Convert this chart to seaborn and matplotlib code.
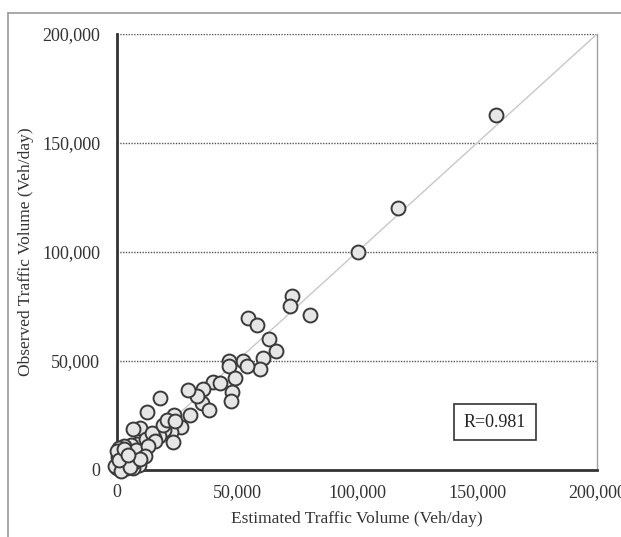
import matplotlib
matplotlib.use("Agg")
import matplotlib.pyplot as plt
import matplotlib.ticker as mticker
from matplotlib.lines import Line2D
import seaborn as sns
import pandas as pd

# Estimated vs observed traffic volume (thousands of veh/day)
estimated_k = [158, 117, 100.5, 73, 72, 80.5, 54.7, 58.2, 63.5, 66.3, 61, 59.6,
               52.6, 54, 46.8, 46.8, 49.2, 47.8, 47.3, 39.9, 42.9, 36, 35.3,
               33.5, 29.5, 38.5, 30.3,
               18, 12.4, 23.8, 26.5, 22.5, 23.5, 19.5, 17.5, 15.5, 13.5, 9.6,
               6.8, 8.5, 6, 3, 1, 11, 7.5, 5.4, 2.6, 0.5, 0.2, 2, 4, 0.5, 9,
               6.8, 10.5, 12, 14.5, 19, 21, 24, 1.5, 3, 5, 8, 4, 1, 3.5, 2.2,
               7, 16, 13, 11.5, -1, 0, 1.8, 5.5, 9.5, 0.8, 2.8, 4.5]
observed_k = [163, 120, 100, 80, 75, 71, 69.5, 66.5, 60, 54.5, 51.5, 46.5,
              50.2, 47.6, 49.8, 47.5, 42.3, 35.6, 31.5, 40.2, 40, 37, 30.5,
              34, 36.5, 27.3, 25.2,
              33, 26.5, 25.3, 19.5, 17.5, 13, 18.4, 15.5, 14.5, 12.8, 19.2,
              18.8, 12, 11.5, 11, 10, 7.7, 6, 4.6, 6.9, 3.8, 0.8, 1.5, 3, 6,
              2.3, 0.8, 9, 14, 17, 20.5, 23, 22.5, 2.5, 5, 8, 9, 1, 4, 2, 0.5,
              3.5, 13.5, 11, 6.5, 2, 8.5, -0.5, 1.5, 5, 4.5, 9.5, 7]

r_text = "R=0.981"
tick_values = [0, 50000, 100000, 150000, 200000]

df = pd.DataFrame({"est": [v * 1000 for v in estimated_k],
                   "obs": [v * 1000 for v in observed_k]})

sns.set_theme(style="white")
plt.rcParams["font.family"] = ["Liberation Serif", "DejaVu Serif"]

fig = plt.figure(figsize=(6.21, 5.37), dpi=100)
ax = fig.add_axes([0.1884, 0.1248, 0.7730, 0.8119])

# light outer frame lines (top & left)
fig.add_artist(Line2D([8 / 621, 1], [1 - 13 / 537, 1 - 13 / 537],
                      transform=fig.transFigure, color="#9a9a9a", lw=1.2))
fig.add_artist(Line2D([8 / 621, 8 / 621], [0, 1 - 13 / 537],
                      transform=fig.transFigure, color="#9a9a9a", lw=1.2))

ax.axline((0, 0), slope=1, color="#c8c8c8", lw=1.0, zorder=1)
for yv in tick_values[1:]:
    ax.axhline(yv, color="#555555", lw=1.0, ls=(0, (1, 1)), zorder=0.5)

sns.scatterplot(data=df, x="est", y="obs", ax=ax, s=100,
                facecolor="#e6e6e6", edgecolor="#3a3a3a", linewidth=1.4,
                zorder=3, legend=False, clip_on=False)

ax.set_xlim(0, 200000)
ax.set_ylim(0, 200000)
ax.set_xticks(tick_values)
ax.set_yticks(tick_values)
fmt = mticker.FuncFormatter(lambda v, p: f"{v:,.0f}")
ax.xaxis.set_major_formatter(fmt)
ax.yaxis.set_major_formatter(fmt)
ax.tick_params(axis="x", direction="in", length=5, width=1, color="#333333",
               labelsize=13, pad=10, labelcolor="#333333")
ax.tick_params(axis="y", direction="in", length=0, labelsize=13, pad=12,
               labelcolor="#333333")

for side in ("left", "bottom"):
    ax.spines[side].set_color("#333333")
    ax.spines[side].set_linewidth(2)
    ax.spines[side].set_zorder(2.5)
for side in ("top", "right"):
    ax.spines[side].set_color("#a0a0a0")
    ax.spines[side].set_linewidth(1)
ax.spines["top"].set_visible(False)

ax.set_xlabel("Estimated Traffic Volume (Veh/day)", fontsize=12.5,
              color="#333333", labelpad=7)
ax.set_ylabel("Observed Traffic Volume (Veh/day)", fontsize=12.5,
              color="#333333", labelpad=6)

ax.text(0.7875, 0.11, r_text, transform=ax.transAxes, ha="center",
        va="center", fontsize=13, color="#222222",
        bbox=dict(boxstyle="square,pad=0.55", facecolor="white",
                  edgecolor="#333333", linewidth=1.2))

fig.savefig("out.png", dpi=100)
